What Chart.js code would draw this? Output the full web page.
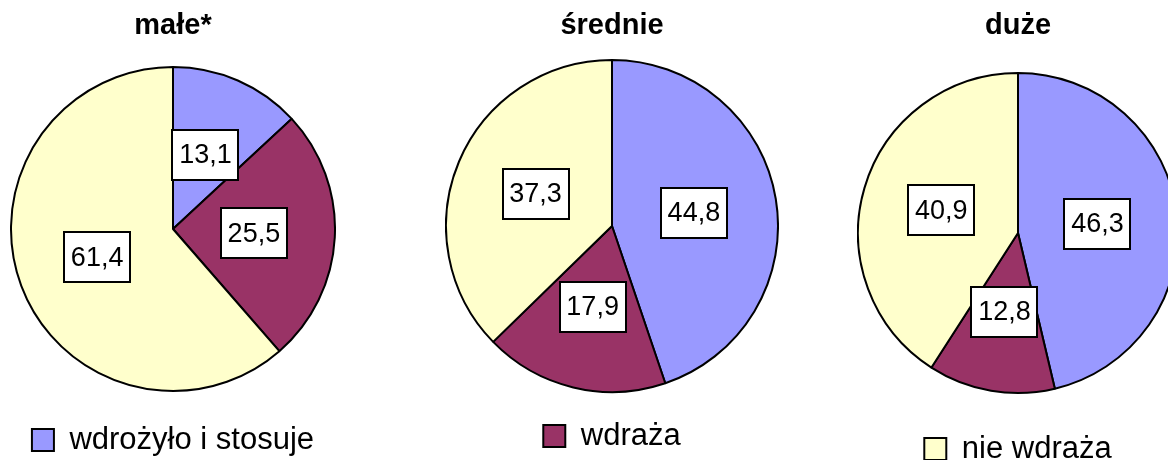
<!DOCTYPE html>
<html lang="pl">
<head>
<meta charset="utf-8">
<script src="https://cdn.jsdelivr.net/npm/chart.js@4.4.1/dist/chart.umd.min.js"></script>
<style>
  html, body { margin: 0; padding: 0; background: #fff; width: 1168px; height: 460px; overflow: hidden; }
  body { position: relative; }
  canvas { position: absolute; top: 0; }
</style>
</head>
<body>
<canvas id="pie0"></canvas>
<canvas id="pie1"></canvas>
<canvas id="pie2"></canvas>
<script>
// Data
const categories = ['wdrożyło i stosuje', 'wdraża', 'nie wdraża'];
const groups = ['małe*', 'średnie', 'duże'];
const maleValues = [13.1, 25.5, 61.4];
const srednieValues = [44.8, 17.9, 37.3];
const duzeValues = [46.3, 12.8, 40.9];
const seriesValues = [maleValues, srednieValues, duzeValues];

const colors = ['#9999ff', '#993366', '#ffffcc'];
const fontFamily = '"Liberation Sans", Arial, sans-serif';

// where each pie sits on the page (centre, radius, top of its legend box)
const pieLayout = [
    { cx: 173, cy: 229, r: 162, legendTop: 429 },
    { cx: 612, cy: 226, r: 166, legendTop: 425 },
    { cx: 1018, cy: 233, r: 160, legendTop: 438 }
];
const canvasHeight = 480;
const titleSize = 29;
const legendSize = 31;

// White boxes with the value, placed at the middle of each slice
const valueBoxes = {
    id: 'valueBoxes',
    afterDatasetsDraw(chart) {
        const ctx = chart.ctx;
        const meta = chart.getDatasetMeta(0);
        const values = chart.data.datasets[0].data;
        ctx.save();
        ctx.font = '27px ' + fontFamily;
        ctx.textAlign = 'center';
        ctx.textBaseline = 'middle';
        meta.data.forEach((arc, i) => {
            const pos = arc.tooltipPosition();
            const text = values[i].toFixed(1).replace('.', ',');
            const w = Math.round(ctx.measureText(text).width + 13);
            const h = 50;
            const x = Math.round(pos.x - w / 2);
            const y = Math.round(pos.y - h / 2);
            ctx.fillStyle = '#ffffff';
            ctx.fillRect(x, y, w, h);
            ctx.lineWidth = 2;
            ctx.strokeStyle = '#000000';
            ctx.strokeRect(x, y, w, h);
            ctx.fillStyle = '#000000';
            ctx.fillText(text, pos.x, pos.y + 1);
        });
        ctx.restore();
    }
};

pieLayout.forEach((p, k) => {
    const canvas = document.getElementById('pie' + k);
    const width = 2 * p.r + 2;
    canvas.width = width;
    canvas.height = canvasHeight;
    canvas.style.left = (p.cx - width / 2) + 'px';

    // legend block: padding 10 + item height + 10 from Chart.js
    const legendBlockTop = p.legendTop - 10 - (legendSize - 22) / 2;
    const legendBlockBottom = legendBlockTop + legendSize + 20;
    const chartTop = 2 * p.cy - legendBlockTop;
    const titleTopPad = 26 - titleSize / 2;
    const titleBottom = titleTopPad + titleSize;

    new Chart(canvas, {
        type: 'pie',
        data: {
            labels: categories,
            datasets: [{
                data: seriesValues[k],
                backgroundColor: colors,
                borderColor: '#000000',
                borderWidth: 2
            }]
        },
        options: {
            responsive: false,
            animation: false,
            layout: {
                padding: { top: 0, left: 0, right: 0, bottom: canvasHeight - legendBlockBottom }
            },
            plugins: {
                title: {
                    display: true,
                    text: groups[k],
                    color: '#000000',
                    font: { family: fontFamily, size: titleSize, weight: 'bold', lineHeight: 1 },
                    padding: { top: titleTopPad, bottom: Math.max(chartTop - titleBottom, 0) }
                },
                legend: {
                    display: true,
                    position: 'bottom',
                    labels: {
                        color: '#000000',
                        font: { family: fontFamily, size: legendSize },
                        boxWidth: 22,
                        boxHeight: 22,
                        padding: 10,
                        filter: (item) => item.index === k
                    }
                },
                tooltip: { enabled: false }
            }
        },
        plugins: [valueBoxes]
    });
});
</script>
</body>
</html>
